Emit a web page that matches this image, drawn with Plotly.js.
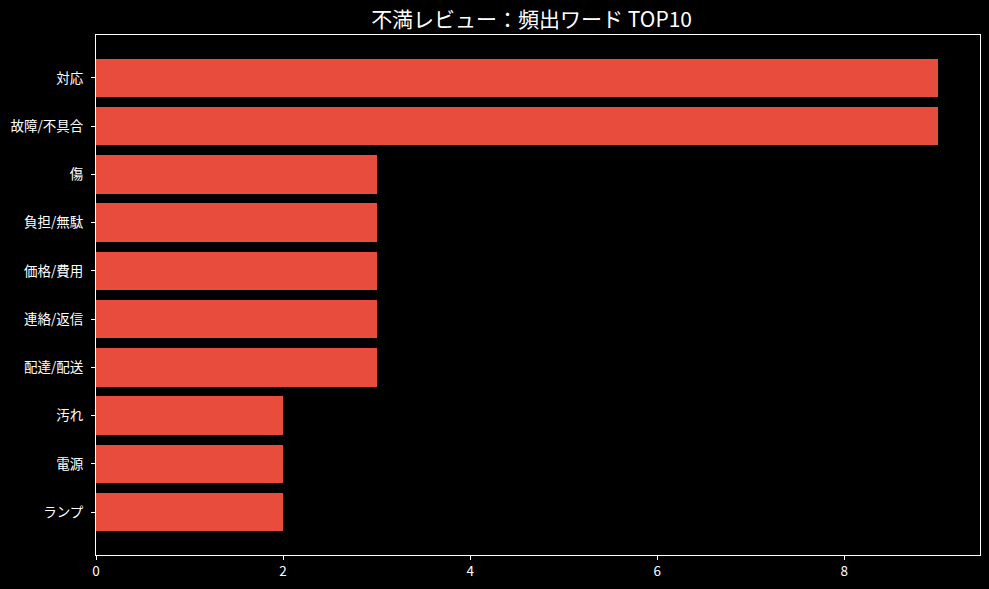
<!DOCTYPE html>
<html>
<head>
<meta charset="utf-8">
<script src="https://cdn.plot.ly/plotly-3.0.1.min.js"></script>
<style>html,body{margin:0;padding:0;background:#000;}#chart{width:989px;height:589px;}</style>
</head>
<body>
<div id="chart"></div>
<script>
const categories = ["対応", "故障/不具合", "傷", "負担/無駄", "価格/費用", "連絡/返信", "配達/配送", "汚れ", "電源", "ランプ"];
const counts = [9, 9, 3, 3, 3, 3, 3, 2, 2, 2];
const xTicks = [0, 2, 4, 6, 8];
const titleText = "不満レビュー：頻出ワード TOP10";

const font = "Noto Sans CJK JP, Noto Sans, DejaVu Sans, sans-serif";

Plotly.newPlot("chart", [{
  type: "bar",
  orientation: "h",
  x: counts,
  y: categories,
  width: 0.8,
  marker: {color: "#e74c3c", line: {width: 0}},
  hoverinfo: "skip"
}], {
  width: 989, height: 589,
  paper_bgcolor: "#000", plot_bgcolor: "#000",
  margin: {l: 95.5, r: 9, t: 35.3, b: 34},
  font: {family: font, color: "#ffffff", size: 13},
  title: {text: titleText, x: 0.5375, xanchor: "center", y: 0.966, yanchor: "middle",
          font: {family: font, size: 21, color: "#ffffff"}},
  showlegend: false,
  bargap: 0,
  xaxis: {
    range: [0, 9.45], tickvals: xTicks, ticktext: xTicks.map(String),
    showgrid: false, zeroline: false,
    showline: true, mirror: true, linecolor: "#ffffff", linewidth: 1,
    ticks: "outside", ticklen: 4, tickcolor: "#ffffff", tickwidth: 1,
    tickfont: {family: font, size: 13.5, color: "#ffffff"}
  },
  yaxis: {
    type: "category",
    categoryorder: "array", categoryarray: categories,
    range: [9.89, -0.89],
    showgrid: false, zeroline: false,
    showline: true, mirror: true, linecolor: "#ffffff", linewidth: 1,
    ticks: "outside", ticklen: 4, tickcolor: "#ffffff", tickwidth: 1,
    ticklabelstandoff: 5,
    tickfont: {family: font, size: 13.5, color: "#ffffff"}
  }
}, {staticPlot: true});
</script>
</body>
</html>
